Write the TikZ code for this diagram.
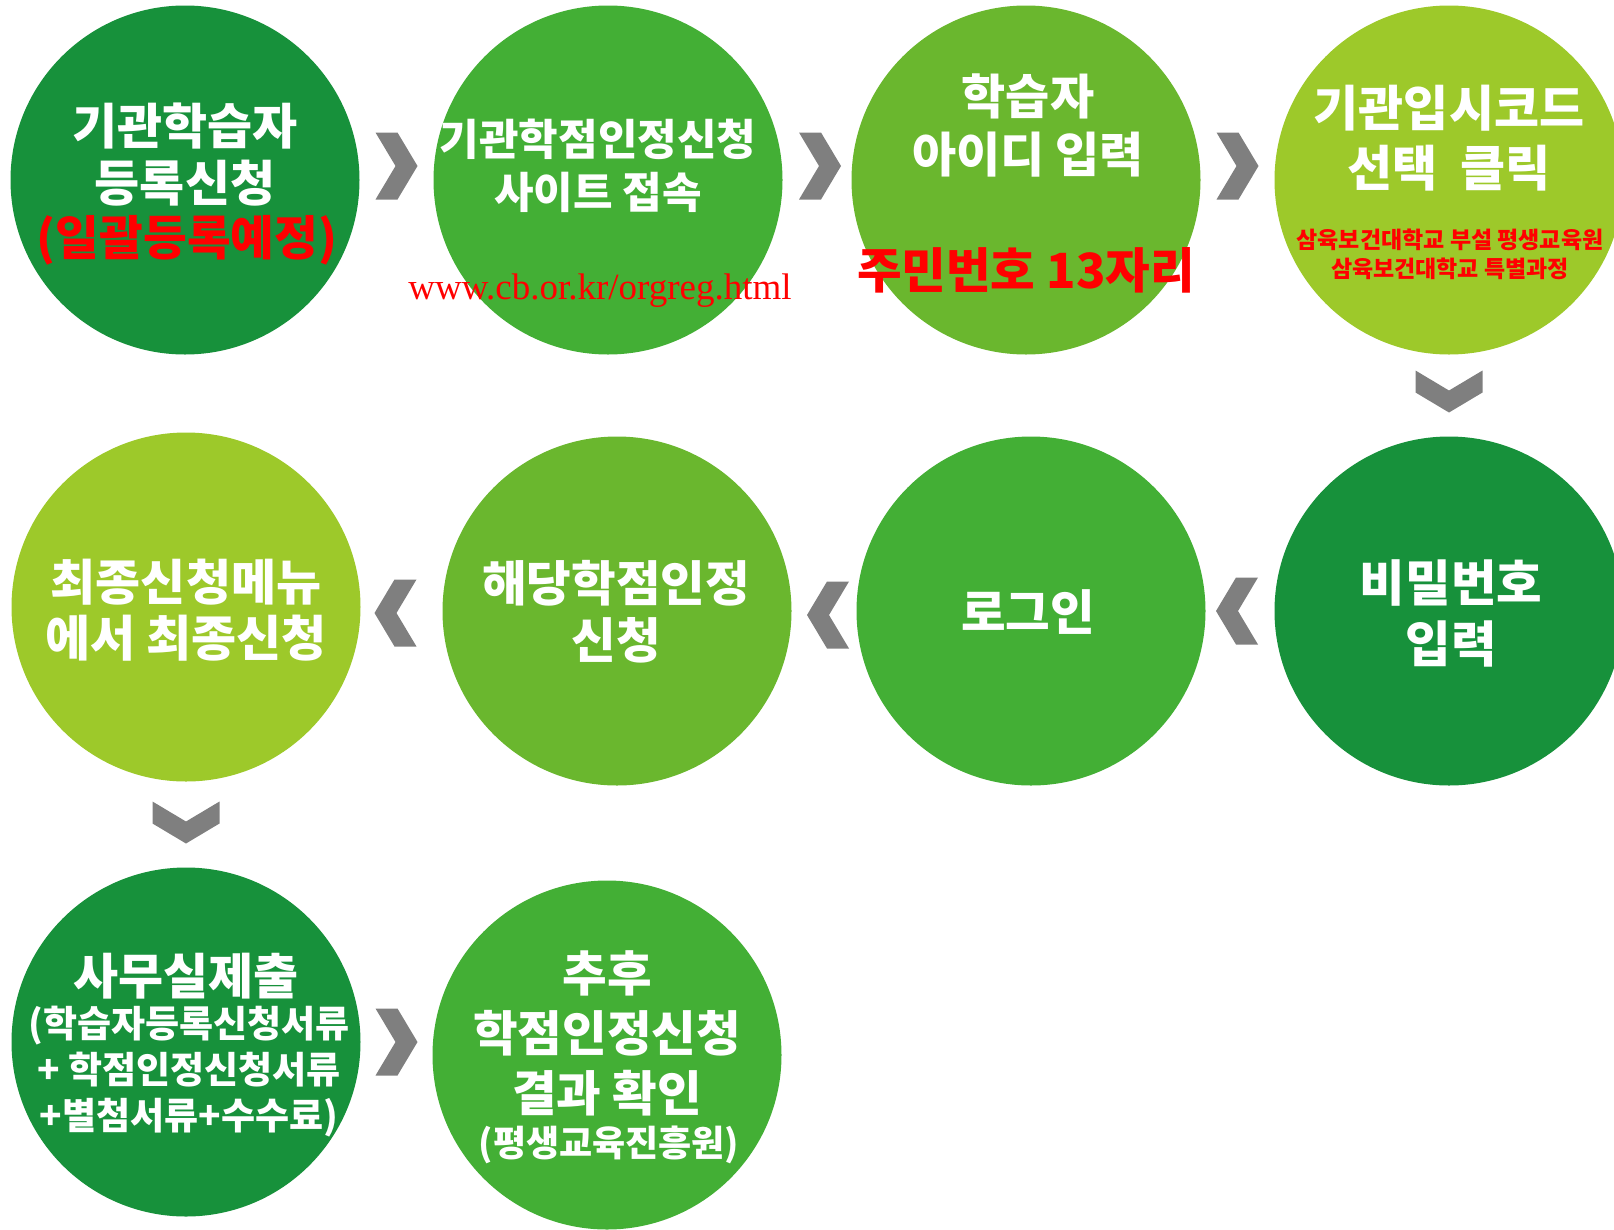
\documentclass[tikz,border=0pt]{standalone}
\usepackage{fontspec}
\setmainfont{Liberation Serif}
\newfontfamily\kr{Noto Sans CJK KR}
\usetikzlibrary{calc}
\definecolor{gdark}{HTML}{17913B}
\definecolor{gmid}{HTML}{43AF35}
\definecolor{gyel}{HTML}{6AB72E}
\definecolor{glight}{HTML}{9DC92A}
\definecolor{chevgray}{HTML}{7F7F7F}
\definecolor{redtxt}{HTML}{FF0000}
\tikzset{
  pics/chevron/.style={code={\fill[chevgray] (-21,-33.5)--(1,-33.5)--(21,0)--(1,33.5)--(-21,33.5)--(-1,0)--cycle;}}
}
\begin{document}
\begin{tikzpicture}[x=1pt,y=-1pt,
  stepcirc/.style={circle,inner sep=0pt,minimum size=349pt,draw=none},
  wtxt/.style={text=white,font=\kr\bfseries\fontsize{48.5}{57}\selectfont,align=center,inner sep=0pt},
  rtxt/.style={text=redtxt,font=\kr\bfseries\fontsize{47.5}{50}\selectfont,align=center,inner sep=0pt},
]
\useasboundingbox (0,0) rectangle (1614,1229);
\clip (0,0) rectangle (1614,1229);
% circles
\node[stepcirc,fill=gdark]  (s1) at (185,180) {};
\node[stepcirc,fill=gmid]   (s2) at (608,180) {};
\node[stepcirc,fill=gyel]   (s3) at (1026,180) {};
\node[stepcirc,fill=glight] (s4) at (1449,180) {};
\node[stepcirc,fill=gdark]  (s5) at (1449,611) {};
\node[stepcirc,fill=gmid]   (s6) at (1031,611) {};
\node[stepcirc,fill=gyel]   (s7) at (617,611) {};
\node[stepcirc,fill=glight] (s8) at (186,607) {};
\node[stepcirc,fill=gdark]  (s9) at (186,1042) {};
\node[stepcirc,fill=gmid]   (s10) at (607,1055) {};
% chevron connectors
\coordinate (a12) at ($(s1.east)!0.5!(s2.west)+(0,-14)$);
\coordinate (a23) at ($(s2.east)!0.5!(s3.west)+(3,-14)$);
\coordinate (a34) at ($(s3.east)!0.5!(s4.west)+(0,-14)$);
\coordinate (a45) at ($(s4.south)!0.5!(s5.north)+(0,-4)$);
\coordinate (a56) at ($(s6.east)!0.5!(s5.west)+(-3,0)$);
\coordinate (a67) at ($(s7.east)!0.5!(s6.west)+(4,4)$);
\coordinate (a78) at ($(s8.east)!0.5!(s7.west)+(-6,4)$);
\coordinate (a89) at ($(s8.south)!0.5!(s9.north)+(0,-2)$);
\coordinate (a910) at ($(s9.east)!0.5!(s10.west)+(0,-6.5)$);
\pic at (a12) {chevron};
\pic at (a23) {chevron};
\pic at (a34) {chevron};
\pic[rotate=-90] at (a45) {chevron};
\pic[rotate=180] at (a56) {chevron};
\pic[rotate=180] at (a67) {chevron};
\pic[rotate=180] at (a78) {chevron};
\pic[rotate=-90] at (a89) {chevron};
\pic at (a910) {chevron};
% texts
\node[wtxt,font=\kr\bfseries\fontsize{49}{57}\selectfont] (t1) at (185,155) {기관학습자\\등록신청};
\node[rtxt] (t1r) at (187,240) {(일괄등록예정)};
\node[wtxt,font=\kr\bfseries\fontsize{43}{53}\selectfont] (t2) at (598,166) {기관학점인정신청\\사이트 접속};
\node[text=redtxt,font=\fontsize{37}{40}\selectfont,inner sep=0pt] (t2r) at (600,291) {www.cb.or.kr/orgreg.html};
\node[wtxt,font=\kr\bfseries\fontsize{48}{58}\selectfont] (t3) at (1028,125) {학습자\\아이디 입력};
\node[rtxt,font=\kr\bfseries\fontsize{48.5}{50}\selectfont] (t3r) at (1026,270) {주민번호 13자리};
\node[wtxt,font=\kr\bfseries\fontsize{49}{60}\selectfont] (t4) at (1449,138) {기관입시코드\\선택\ \ 클릭};
\node[rtxt,font=\kr\bfseries\fontsize{23}{29}\selectfont] (t4r) at (1450,254) {삼육보건대학교 부설 평생교육원\\삼육보건대학교 특별과정};
\node[wtxt,font=\kr\bfseries\fontsize{49.5}{61}\selectfont] (t5) at (1451,613) {비밀번호\\입력};
\node[wtxt] (t6) at (1028,612) {로그인};
\node[wtxt] (t7) at (616,612) {해당학점인정\\신청};
\node[wtxt,font=\kr\bfseries\fontsize{49}{56}\selectfont] (t8) at (186,610) {최종신청메뉴\\에서 최종신청};
\node[wtxt,font=\kr\bfseries\fontsize{49}{50}\selectfont] (t9) at (186,976) {사무실제출};
\node[wtxt,font=\kr\bfseries\fontsize{37}{46}\selectfont] (t9b) at (189,1072) {(학습자등록신청서류\\+ 학점인정신청서류\\+별첨서류+수수료)};
\node[wtxt,font=\kr\bfseries\fontsize{48.5}{60}\selectfont] (t10) at (607,1033) {추후\\학점인정신청\\결과 확인};
\node[wtxt,font=\kr\bfseries\fontsize{36}{40}\selectfont] (t10b) at (609,1145) {(평생교육진흥원)};
\end{tikzpicture}
\end{document}
